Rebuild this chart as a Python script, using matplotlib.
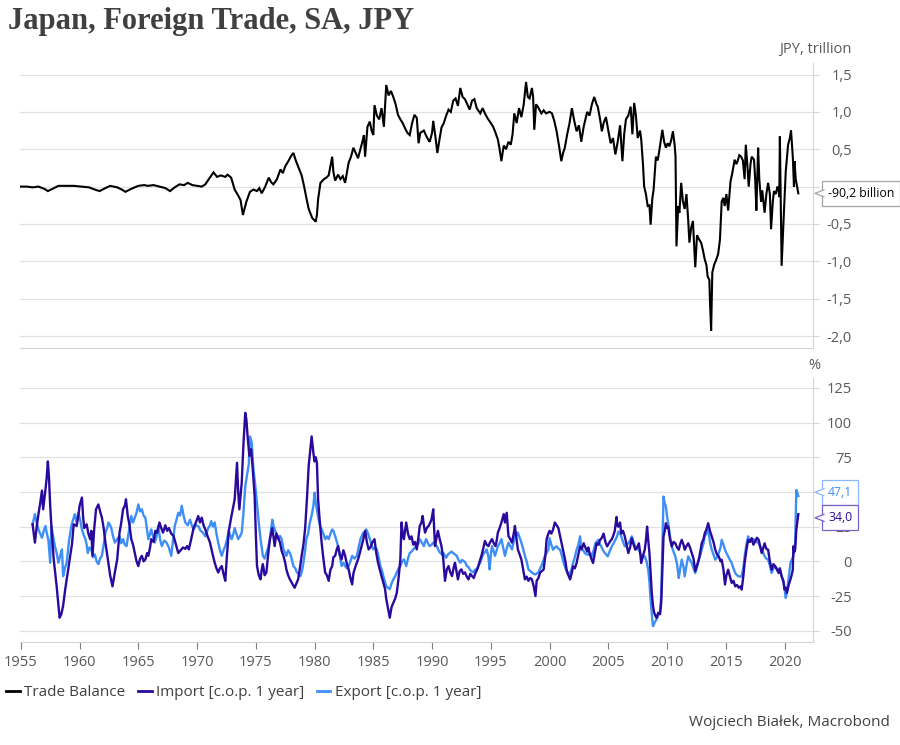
import matplotlib
matplotlib.use("Agg")
import matplotlib.pyplot as plt
from matplotlib.lines import Line2D
from matplotlib.patches import Polygon

plt.rcParams['font.family'] = ['Open Sans', 'DejaVu Sans']

# Trade balance, JPY trillion (year, value)
tb_points = [
    (1955.0, 0.0), (1955.5, 0.0), (1956.0, -0.01), (1956.5, 0.0), (1957.0, -0.03), (1957.3, -0.06),
    (1957.7, -0.03), (1958.2, 0.01), (1958.8, 0.01), (1959.5, 0.01), (1960.2, 0.0), (1960.8, -0.01),
    (1961.3, -0.04), (1961.7, -0.06), (1962.2, -0.02), (1962.6, 0.01), (1963.2, -0.01), (1963.6, -0.04),
    (1963.9, -0.07), (1964.4, -0.03), (1965.0, 0.01), (1965.5, 0.02), (1965.8, 0.01), (1966.3, 0.02),
    (1966.8, 0.0), (1967.3, -0.02), (1967.7, -0.06), (1968.1, -0.01), (1968.5, 0.03), (1968.9, 0.02),
    (1969.2, 0.05), (1969.6, 0.02), (1970.0, 0.01), (1970.4, 0.0), (1970.7, 0.03), (1971.0, 0.1),
    (1971.4, 0.19), (1971.7, 0.13), (1972.0, 0.15), (1972.4, 0.13), (1972.6, 0.16), (1972.9, 0.12),
    (1973.2, -0.04), (1973.5, -0.12), (1973.7, -0.18), (1973.9, -0.38), (1974.2, -0.2), (1974.5, -0.07),
    (1974.8, -0.04), (1975.1, -0.06), (1975.3, -0.02), (1975.5, -0.09), (1975.8, 0.0), (1976.1, 0.12),
    (1976.3, 0.06), (1976.5, 0.03), (1976.8, 0.1), (1977.1, 0.23), (1977.3, 0.18), (1977.5, 0.27),
    (1977.8, 0.35), (1978.0, 0.41), (1978.2, 0.45), (1978.4, 0.35), (1978.6, 0.27), (1978.9, 0.15),
    (1979.1, 0.01), (1979.3, -0.15), (1979.5, -0.3), (1979.8, -0.42), (1980.1, -0.47), (1980.2, -0.38),
    (1980.3, -0.17), (1980.5, 0.05), (1980.8, 0.1), (1981.0, 0.12), (1981.2, 0.15), (1981.5, 0.4),
    (1981.6, 0.2), (1981.75, 0.08), (1982.0, 0.16), (1982.2, 0.1), (1982.4, 0.14), (1982.6, 0.05),
    (1982.9, 0.32), (1983.1, 0.4), (1983.3, 0.52), (1983.5, 0.45), (1983.7, 0.38), (1983.9, 0.5),
    (1984.1, 0.62), (1984.2, 0.69), (1984.3, 0.4), (1984.5, 0.8), (1984.7, 0.87), (1984.85, 0.75),
    (1985.0, 0.69), (1985.1, 1.09), (1985.3, 0.95), (1985.5, 0.9), (1985.7, 1.05), (1985.9, 0.8),
    (1986.1, 1.36), (1986.3, 1.22), (1986.5, 1.28), (1986.7, 1.2), (1986.9, 1.1), (1987.1, 0.96),
    (1987.3, 0.9), (1987.5, 0.85), (1987.7, 0.78), (1987.9, 0.72), (1988.1, 0.69), (1988.3, 0.85),
    (1988.5, 0.96), (1988.7, 0.92), (1988.85, 0.58), (1989.0, 0.72), (1989.3, 0.75), (1989.5, 0.68),
    (1989.7, 0.62), (1989.8, 0.6), (1990.0, 0.72), (1990.1, 0.88), (1990.3, 0.65), (1990.45, 0.45),
    (1990.6, 0.6), (1990.8, 0.79), (1991.0, 0.85), (1991.2, 0.95), (1991.4, 1.03), (1991.6, 1.0),
    (1991.8, 1.15), (1992.0, 1.18), (1992.2, 1.08), (1992.4, 1.32), (1992.6, 1.2), (1992.8, 1.17),
    (1993.0, 1.1), (1993.2, 1.03), (1993.4, 1.15), (1993.6, 1.17), (1993.8, 1.05), (1994.1, 0.98),
    (1994.3, 1.05), (1994.5, 0.98), (1994.7, 0.92), (1995.0, 0.85), (1995.2, 0.8), (1995.4, 0.72),
    (1995.6, 0.63), (1995.75, 0.5), (1995.9, 0.34), (1996.1, 0.55), (1996.3, 0.5), (1996.5, 0.6),
    (1996.7, 0.56), (1996.85, 0.7), (1997.0, 0.98), (1997.2, 0.85), (1997.4, 1.05), (1997.6, 0.93),
    (1997.8, 1.1), (1998.0, 1.4), (1998.15, 1.2), (1998.3, 1.18), (1998.5, 1.32), (1998.6, 1.2),
    (1998.7, 0.76), (1998.85, 1.1), (1999.0, 1.07), (1999.3, 0.98), (1999.5, 1.02), (1999.7, 0.98),
    (2000.0, 1.0), (2000.2, 0.98), (2000.4, 0.88), (2000.6, 0.74), (2000.8, 0.55), (2001.0, 0.34),
    (2001.15, 0.45), (2001.3, 0.52), (2001.5, 0.7), (2001.7, 0.85), (2001.9, 1.05), (2002.1, 0.88),
    (2002.3, 0.74), (2002.5, 0.82), (2002.7, 0.6), (2002.9, 0.8), (2003.2, 1.0), (2003.4, 0.95),
    (2003.6, 1.1), (2003.8, 1.2), (2004.0, 1.1), (2004.1, 1.07), (2004.3, 0.9), (2004.45, 0.74),
    (2004.6, 0.85), (2004.8, 0.93), (2005.0, 0.75), (2005.2, 0.58), (2005.4, 0.65), (2005.6, 0.43),
    (2005.8, 0.6), (2006.0, 0.82), (2006.2, 0.34), (2006.35, 0.7), (2006.5, 0.9), (2006.7, 0.95),
    (2006.9, 1.07), (2007.05, 0.7), (2007.2, 1.12), (2007.35, 0.95), (2007.5, 0.65), (2007.7, 0.75),
    (2007.8, 0.63), (2007.95, 0.3), (2008.05, 0.0), (2008.2, -0.1), (2008.35, -0.26), (2008.5, -0.25),
    (2008.6, -0.51), (2008.75, -0.15), (2008.85, -0.05), (2009.05, 0.4), (2009.2, 0.35), (2009.3, 0.44),
    (2009.45, 0.6), (2009.6, 0.76), (2009.75, 0.6), (2009.9, 0.52), (2010.05, 0.58), (2010.2, 0.54),
    (2010.35, 0.62), (2010.5, 0.74), (2010.65, 0.55), (2010.72, 0.4), (2010.8, -0.8), (2010.95, -0.26),
    (2011.05, -0.35), (2011.2, 0.05), (2011.35, -0.2), (2011.5, -0.3), (2011.65, -0.1), (2011.8, -0.45),
    (2011.9, -0.75), (2012.05, -0.55), (2012.2, -0.46), (2012.4, -1.08), (2012.55, -0.65), (2012.7, -0.7),
    (2012.9, -0.75), (2013.05, -0.85), (2013.2, -0.97), (2013.35, -1.05), (2013.45, -1.2), (2013.6, -1.25),
    (2013.65, -1.53), (2013.75, -1.93), (2013.85, -1.15), (2014.0, -1.05), (2014.2, -0.97), (2014.35, -0.9),
    (2014.5, -0.71), (2014.65, -0.2), (2014.8, -0.15), (2014.9, -0.26), (2015.05, -0.1), (2015.2, -0.32),
    (2015.4, 0.07), (2015.55, 0.18), (2015.75, 0.36), (2015.9, 0.3), (2016.0, 0.34), (2016.15, 0.42),
    (2016.3, 0.4), (2016.45, 0.35), (2016.6, 0.1), (2016.7, 0.56), (2016.85, 0.25), (2016.95, 0.0),
    (2017.1, 0.3), (2017.2, 0.4), (2017.4, 0.36), (2017.5, 0.1), (2017.6, -0.32), (2017.75, 0.52),
    (2017.85, 0.1), (2018.0, -0.2), (2018.1, -0.05), (2018.3, -0.35), (2018.45, -0.1), (2018.6, 0.05),
    (2018.75, -0.1), (2018.85, -0.57), (2019.0, -0.2), (2019.1, -0.06), (2019.25, -0.1), (2019.4, 0.0),
    (2019.5, -0.05), (2019.55, -0.14), (2019.6, 0.67), (2019.75, -1.06), (2019.9, -0.5), (2020.1, 0.2),
    (2020.3, 0.56), (2020.45, 0.65), (2020.55, 0.75), (2020.7, 0.4), (2020.8, 0.0), (2020.85, 0.34),
    (2020.95, 0.1), (2021.17, -0.0902),
]

# Import, % change over 1 year
imp_points = [
    (1956.0, 26.7), (1956.2, 13.5), (1956.35, 25), (1956.5, 34), (1956.65, 42), (1956.8, 51), (1956.9, 37.5),
    (1957.1, 52), (1957.2, 60), (1957.3, 72), (1957.4, 60), (1957.5, 40), (1957.6, 25.5), (1957.8, 1.4),
    (1958.05, -18), (1958.2, -32), (1958.3, -40.6), (1958.45, -38), (1958.6, -32), (1958.75, -22),
    (1958.9, -13), (1959.05, -5), (1959.2, 4), (1959.35, 12), (1959.5, 26.7), (1959.75, 25.5), (1959.9, 33),
    (1960.0, 40), (1960.2, 46), (1960.3, 32), (1960.4, 24), (1960.6, 26.7), (1960.75, 20), (1960.9, 16),
    (1961.0, 22), (1961.1, 4), (1961.25, 24), (1961.4, 37.5), (1961.6, 41), (1961.75, 36), (1961.9, 31.5),
    (1962.05, 24), (1962.2, 13.5), (1962.35, 5), (1962.45, -1), (1962.6, -10), (1962.8, -18), (1963.0, -8),
    (1963.2, 1.4), (1963.4, 20.7), (1963.55, 28), (1963.7, 37.5), (1963.85, 40), (1963.95, 44.7),
    (1964.1, 32.7), (1964.25, 26), (1964.4, 16), (1964.55, 12), (1964.7, 6), (1964.85, 0), (1965.0, -3.4),
    (1965.15, 2), (1965.3, 4), (1965.45, 0), (1965.6, 1.4), (1965.75, 6), (1965.85, 4), (1966.0, 10),
    (1966.1, 16), (1966.3, 14), (1966.45, 22), (1966.6, 20.7), (1966.8, 28), (1966.95, 24), (1967.1, 20.7),
    (1967.3, 26), (1967.45, 22), (1967.6, 24), (1967.8, 20), (1968.0, 18.3), (1968.2, 12), (1968.4, 6),
    (1968.6, 8), (1968.8, 10), (1969.0, 9), (1969.15, 11), (1969.3, 8.6), (1969.5, 16), (1969.7, 24),
    (1969.9, 28), (1970.1, 32.7), (1970.25, 28), (1970.4, 31.5), (1970.55, 26), (1970.7, 23), (1970.9, 18),
    (1971.1, 13.5), (1971.3, 6), (1971.5, -1), (1971.65, -5), (1971.8, -8), (1971.95, -5), (1972.1, -3.4),
    (1972.25, -9), (1972.4, -14), (1972.55, 5), (1972.7, 22), (1972.9, 31.5), (1973.05, 38), (1973.2, 44.7),
    (1973.4, 71), (1973.5, 50), (1973.6, 37.5), (1973.8, 56.7), (1973.95, 85), (1974.1, 107), (1974.2, 102),
    (1974.3, 90), (1974.45, 76), (1974.6, 80.8), (1974.75, 65), (1974.9, 47), (1975.0, 20), (1975.1, -3.4),
    (1975.25, -10), (1975.4, -13), (1975.5, -6), (1975.6, -2), (1975.75, -10), (1975.9, -8), (1976.05, 5),
    (1976.2, 16), (1976.4, 24), (1976.5, 18), (1976.6, 11), (1976.75, 20), (1976.9, 17), (1977.06, 13.5),
    (1977.2, 7.5), (1977.35, 4), (1977.5, -1), (1977.6, -5.8), (1977.75, -10), (1977.9, -13), (1978.1, -16),
    (1978.3, -19), (1978.45, -16), (1978.6, -13), (1978.75, -5), (1978.9, 4), (1979.05, 12), (1979.2, 24),
    (1979.35, 45), (1979.5, 69), (1979.65, 82), (1979.75, 90), (1979.85, 82), (1979.9, 78), (1980.0, 72),
    (1980.1, 75), (1980.2, 71), (1980.3, 44.7), (1980.45, 28), (1980.6, 13.5), (1980.75, 2), (1980.9, -8),
    (1981.05, -10), (1981.2, -14), (1981.35, -6), (1981.5, -3.4), (1981.6, 3), (1981.75, 4), (1981.9, 9),
    (1982.0, 11), (1982.15, 5), (1982.3, 1.4), (1982.45, 8), (1982.6, 4), (1982.75, -2), (1982.9, -5.8),
    (1983.05, -12), (1983.2, -16.6), (1983.3, -9), (1983.4, -5.8), (1983.55, -2), (1983.7, 1.4),
    (1983.85, 6), (1984.0, 11), (1984.15, 16), (1984.3, 22), (1984.45, 14), (1984.6, 8.6), (1984.75, 10),
    (1984.9, 13.5), (1985.1, 16), (1985.25, 6), (1985.4, -1), (1985.55, -6), (1985.7, -10.6), (1985.85, -15),
    (1986.0, -20), (1986.1, -27), (1986.25, -34), (1986.4, -40.6), (1986.55, -33), (1986.7, -30),
    (1986.85, -27), (1987.0, -22.6), (1987.15, -12), (1987.3, 1.4), (1987.4, 28), (1987.5, 20), (1987.6, 16),
    (1987.7, 22), (1987.8, 28), (1987.95, 20), (1988.1, 16), (1988.25, 18), (1988.4, 12), (1988.55, 14),
    (1988.7, 8.6), (1988.85, 18), (1988.95, 25.5), (1989.1, 28), (1989.2, 32.7), (1989.3, 26), (1989.4, 20.7),
    (1989.55, 24), (1989.7, 25.5), (1989.85, 28), (1989.95, 30), (1990.1, 37.5), (1990.25, 11), (1990.4, 18),
    (1990.5, 22), (1990.65, 16), (1990.8, 11), (1990.95, 2), (1991.1, -14), (1991.25, -6), (1991.4, -3.4),
    (1991.55, -8), (1991.7, -10.6), (1991.85, -4), (1991.95, -1), (1992.1, -8), (1992.2, -13), (1992.35, -7),
    (1992.5, -5.8), (1992.65, -9), (1992.8, -8), (1992.95, -11), (1993.1, -13), (1993.25, -9), (1993.4, -10.6),
    (1993.55, -12), (1993.65, -9.4), (1993.9, -4.6), (1994.05, 0), (1994.2, 4), (1994.35, 9), (1994.5, 14.7),
    (1994.65, 12), (1994.8, 11), (1994.95, 14), (1995.1, 16), (1995.25, 13), (1995.4, 11), (1995.5, 15),
    (1995.6, 20.7), (1995.75, 24), (1995.9, 28), (1996.1, 34), (1996.2, 28), (1996.35, 35), (1996.5, 18.3),
    (1996.65, 16), (1996.8, 13.5), (1996.95, 20), (1997.05, 25.5), (1997.2, 15), (1997.3, 8.6), (1997.45, 5),
    (1997.6, 1.4), (1997.75, -6), (1997.9, -13), (1998.05, -11), (1998.2, -14), (1998.35, -12), (1998.5, -13),
    (1998.65, -18), (1998.8, -25), (1998.9, -14), (1999.05, -12), (1999.2, -8), (1999.35, -7), (1999.5, -5.8),
    (1999.65, 5), (1999.75, 16), (1999.9, 20), (2000.0, 22), (2000.15, 20), (2000.3, 23), (2000.45, 28),
    (2000.6, 26), (2000.75, 24), (2000.9, 18), (2001.05, 12), (2001.2, 6), (2001.35, 0), (2001.45, -6),
    (2001.6, -10), (2001.75, -13), (2001.9, -8), (2002.0, -3.6), (2002.15, -5), (2002.3, -1.2), (2002.45, 5),
    (2002.6, 10.8), (2002.75, 9), (2002.9, 13), (2003.05, 10), (2003.2, 7), (2003.3, 10), (2003.4, 6),
    (2003.55, 2), (2003.7, -1.2), (2003.85, 6), (2004.0, 13), (2004.15, 12), (2004.3, 15.5), (2004.45, 17),
    (2004.6, 20), (2004.75, 14), (2004.9, 10.8), (2005.05, 13), (2005.15, 14.4), (2005.3, 16), (2005.4, 18),
    (2005.55, 22), (2005.7, 32), (2005.75, 26), (2005.85, 25), (2006.0, 28), (2006.1, 20), (2006.25, 22),
    (2006.4, 18), (2006.55, 12), (2006.7, 6), (2006.85, 10), (2007.0, 16.7), (2007.15, 12), (2007.3, 8.4),
    (2007.45, 10), (2007.6, 13), (2007.7, 7), (2007.8, -1.2), (2007.95, 4), (2008.1, 8.4), (2008.2, 15),
    (2008.3, 25), (2008.4, 15), (2008.5, 6), (2008.6, -8), (2008.7, -22.7), (2008.8, -32), (2008.9, -37),
    (2009.0, -39), (2009.1, -40.7), (2009.25, -37), (2009.4, -38), (2009.5, -30), (2009.6, -5), (2009.7, 18),
    (2009.8, 22), (2009.9, 27.5), (2010.0, 24), (2010.1, 25), (2010.25, 16), (2010.4, 10.8), (2010.55, 14),
    (2010.7, 13), (2010.85, 10), (2011.0, 8.4), (2011.1, 12), (2011.25, 15.5), (2011.4, 12), (2011.5, 8.4),
    (2011.65, 11), (2011.8, 13), (2011.95, 10), (2012.1, 6), (2012.25, 2), (2012.4, -7), (2012.55, -3),
    (2012.7, 1.2), (2012.85, 8), (2012.95, 13), (2013.1, 16), (2013.2, 20), (2013.35, 23), (2013.5, 27.5),
    (2013.65, 22), (2013.8, 18), (2013.95, 14), (2014.1, 8.4), (2014.25, 5), (2014.4, 3.6), (2014.55, 0),
    (2014.65, 1.2), (2014.8, -6), (2014.93, -16.7), (2015.05, -10), (2015.2, -6), (2015.35, -11),
    (2015.5, -15.5), (2015.65, -14), (2015.8, -18), (2015.95, -17), (2016.1, -19), (2016.25, -18),
    (2016.35, -20.3), (2016.5, -10), (2016.6, -1.2), (2016.75, 8), (2016.9, 15.5), (2017.05, 14),
    (2017.2, 16.7), (2017.35, 12), (2017.5, 14.4), (2017.65, 17), (2017.8, 15.5), (2017.95, 10), (2018.05, 6),
    (2018.2, 10), (2018.3, 13), (2018.45, 9), (2018.6, 8.4), (2018.75, 0), (2018.9, -6), (2019.05, -2),
    (2019.2, -3.6), (2019.35, -6), (2019.5, -8.4), (2019.6, -5), (2019.75, -10.8), (2019.9, -14),
    (2020.0, -20.3), (2020.1, -19), (2020.2, -22.7), (2020.35, -17), (2020.5, -13), (2020.6, -10),
    (2020.7, -6), (2020.75, 10.8), (2020.85, 7), (2020.9, 8.4), (2021.0, 22.7), (2021.17, 34.0),
]

# Export, % change over 1 year
exp_points = [
    (1956.0, 26.7), (1956.2, 34), (1956.35, 28), (1956.5, 23), (1956.65, 20), (1956.8, 17), (1956.95, 22),
    (1957.1, 25.5), (1957.2, 20.7), (1957.35, 15), (1957.5, -1), (1957.6, 25.5), (1957.75, 18), (1957.9, 11),
    (1958.05, 6), (1958.2, -1), (1958.35, 4), (1958.5, 8.6), (1958.6, -10.6), (1958.75, -5), (1958.9, -1),
    (1959.1, 14.7), (1959.2, 20), (1959.3, 25.5), (1959.45, 30), (1959.6, 34), (1959.75, 28), (1959.9, 35),
    (1960.05, 30), (1960.2, 23), (1960.35, 19), (1960.5, 16), (1960.6, 12), (1960.7, 6), (1960.85, 10),
    (1961.0, 8.6), (1961.15, 3), (1961.3, 5), (1961.45, 0), (1961.6, -2), (1961.75, 2), (1961.9, 4),
    (1962.05, 12), (1962.2, 20.7), (1962.35, 24), (1962.45, 28), (1962.6, 26), (1962.7, 24), (1962.85, 18),
    (1963.0, 13.5), (1963.2, 16), (1963.4, 18.3), (1963.55, 13), (1963.7, 16), (1963.85, 12), (1964.0, 11),
    (1964.2, 22), (1964.4, 32.7), (1964.55, 28), (1964.7, 31.5), (1964.85, 35), (1965.0, 41), (1965.15, 36),
    (1965.3, 37.5), (1965.45, 33), (1965.6, 31.5), (1965.75, 22), (1965.85, 16), (1966.0, 20), (1966.1, 23),
    (1966.25, 18), (1966.4, 13.5), (1966.55, 18), (1966.7, 25.5), (1966.85, 16), (1967.0, 11), (1967.2, 15),
    (1967.4, 13.5), (1967.6, 10), (1967.8, 4), (1967.95, 15), (1968.1, 25.5), (1968.25, 30), (1968.4, 35),
    (1968.55, 33), (1968.7, 40), (1968.85, 33), (1969.0, 28), (1969.2, 26), (1969.4, 30), (1969.55, 26),
    (1969.7, 23), (1969.9, 26), (1970.1, 25.5), (1970.3, 22), (1970.5, 20.7), (1970.7, 18), (1970.95, 24),
    (1971.1, 26), (1971.2, 29), (1971.35, 25), (1971.5, 28), (1971.65, 20), (1971.8, 13.5), (1971.95, 8),
    (1972.1, 4), (1972.25, 8), (1972.4, 11), (1972.55, 16), (1972.7, 22), (1972.85, 18), (1972.95, 16),
    (1973.1, 20), (1973.2, 24), (1973.35, 20), (1973.5, 16), (1973.65, 18), (1973.8, 20.7), (1973.95, 35),
    (1974.1, 54), (1974.25, 62), (1974.4, 70), (1974.5, 90), (1974.65, 85.6), (1974.8, 66), (1974.95, 55),
    (1975.1, 42), (1975.25, 28), (1975.4, 16), (1975.5, 10), (1975.6, 4), (1975.75, 2), (1975.9, 6),
    (1976.05, 10), (1976.2, 16), (1976.4, 30), (1976.5, 26), (1976.6, 23), (1976.75, 20), (1976.9, 16),
    (1977.06, 18.3), (1977.2, 16), (1977.35, 8.6), (1977.5, 6), (1977.6, 4), (1977.75, 8), (1977.9, 6),
    (1978.05, 2), (1978.2, -3.4), (1978.35, -5), (1978.5, -8), (1978.65, -9), (1978.8, -10.6), (1978.95, -6),
    (1979.05, -1), (1979.2, 8), (1979.3, 16), (1979.45, 20), (1979.6, 28), (1979.75, 33), (1979.9, 40),
    (1980.0, 49.5), (1980.1, 42), (1980.2, 37.5), (1980.3, 32), (1980.4, 28), (1980.5, 25), (1980.6, 23),
    (1980.75, 20), (1980.9, 16), (1981.05, 18), (1981.2, 16), (1981.35, 20), (1981.5, 23), (1981.6, 22),
    (1981.75, 18.3), (1981.9, 14), (1982.0, 11), (1982.15, 4), (1982.3, -3.4), (1982.45, -1), (1982.6, -3.4),
    (1982.75, -5), (1982.9, -3.4), (1983.05, 0), (1983.2, 4), (1983.4, 2), (1983.6, 4), (1983.75, 10),
    (1983.9, 16), (1984.15, 20.7), (1984.3, 19), (1984.4, 23), (1984.55, 20), (1984.7, 16), (1984.85, 12),
    (1985.0, 8.6), (1985.15, 10), (1985.3, 8.6), (1985.45, 3), (1985.6, -3.4), (1985.75, -7), (1985.85, -10.6),
    (1986.0, -15), (1986.1, -18), (1986.25, -19), (1986.4, -20), (1986.55, -16), (1986.7, -13), (1986.85, -11),
    (1987.0, -8), (1987.15, -5), (1987.3, -3.4), (1987.45, 0), (1987.6, 1.4), (1987.7, -1), (1987.8, -3.4),
    (1987.95, 2), (1988.1, 6), (1988.25, 7), (1988.4, 8.6), (1988.55, 10), (1988.7, 11), (1988.85, 13),
    (1988.95, 16), (1989.1, 14), (1989.3, 11), (1989.4, 14), (1989.5, 16), (1989.65, 13), (1989.8, 11),
    (1989.95, 12), (1990.1, 13.5), (1990.25, 12), (1990.4, 11), (1990.55, 8), (1990.7, 6), (1990.85, 5),
    (1990.96, 6), (1991.1, 4), (1991.2, 2.6), (1991.35, 5), (1991.5, 6), (1991.65, 7), (1991.8, 6),
    (1991.95, 5), (1992.1, 4), (1992.25, 1), (1992.4, -1), (1992.55, 1), (1992.7, 0.2), (1992.85, -1),
    (1992.95, -3.4), (1993.1, -4), (1993.2, -5.8), (1993.35, -7), (1993.5, -8), (1993.65, -6), (1993.8, -5.8),
    (1993.95, -3), (1994.1, -1), (1994.25, 3), (1994.4, 6), (1994.55, 7), (1994.65, 8.6), (1994.8, 3),
    (1994.9, -5.8), (1995.0, 5), (1995.1, 11), (1995.25, 7), (1995.35, 4), (1995.5, 8), (1995.6, 11),
    (1995.75, 13), (1995.9, 16), (1996.05, 10), (1996.2, 4), (1996.35, 9), (1996.5, 13.5), (1996.65, 11),
    (1996.8, 8.6), (1996.95, 14), (1997.06, 18.3), (1997.2, 19), (1997.3, 20.7), (1997.45, 17), (1997.6, 13.5),
    (1997.75, 9), (1997.9, 4), (1998.05, 0), (1998.2, -5.8), (1998.35, -7), (1998.5, -8), (1998.65, -9),
    (1998.8, -9.4), (1998.95, -8.5), (1999.05, -8), (1999.2, -5), (1999.3, -3.4), (1999.45, 0), (1999.6, 4),
    (1999.75, 6), (1999.9, 8.6), (2000.0, 16.7), (2000.15, 12), (2000.3, 8.4), (2000.45, 10), (2000.6, 10.8),
    (2000.75, 9), (2000.9, 8.4), (2001.05, 4), (2001.2, -1.2), (2001.35, -5), (2001.45, -7), (2001.6, -10),
    (2001.75, -8), (2001.9, -5), (2002.0, -1.2), (2002.15, 3), (2002.3, 8.4), (2002.45, 12), (2002.6, 18),
    (2002.7, 8.4), (2002.85, 8), (2003.0, 6), (2003.15, 5), (2003.3, 4.8), (2003.45, 6), (2003.6, 3.6),
    (2003.75, 8), (2003.9, 13), (2004.15, 15.5), (2004.3, 12), (2004.4, 10.8), (2004.55, 8), (2004.7, 6),
    (2004.8, 5), (2004.95, 3.6), (2005.1, 7), (2005.3, 10.8), (2005.45, 13), (2005.6, 15.5), (2005.75, 18),
    (2005.85, 21.5), (2006.0, 20), (2006.1, 18), (2006.25, 14), (2006.4, 10.8), (2006.55, 12), (2006.7, 13),
    (2006.85, 15), (2007.0, 18), (2007.15, 14), (2007.3, 10.8), (2007.45, 9), (2007.6, 8.4), (2007.7, 6),
    (2007.8, 3.6), (2007.95, 4), (2008.1, 3.6), (2008.25, 0), (2008.4, -6), (2008.5, -15), (2008.6, -27.5),
    (2008.7, -38), (2008.8, -46.7), (2008.95, -44), (2009.1, -41.9), (2009.25, -39), (2009.4, -37),
    (2009.5, -25), (2009.6, 10), (2009.7, 46.7), (2009.8, 42), (2009.9, 39.5), (2010.0, 32), (2010.1, 27.5),
    (2010.25, 18), (2010.4, 10.8), (2010.55, 7), (2010.7, 3.6), (2010.85, -2), (2011.0, -12), (2011.1, -6),
    (2011.25, 1.2), (2011.4, -4), (2011.5, -10.8), (2011.65, -3), (2011.8, 3.6), (2011.95, 1), (2012.1, -1.2),
    (2012.25, -5), (2012.4, -8.4), (2012.55, -4), (2012.7, 1.2), (2012.85, 5), (2012.95, 8.4), (2013.1, 13),
    (2013.2, 18), (2013.35, 20), (2013.5, 22.7), (2013.65, 14), (2013.8, 8.4), (2013.95, 5), (2014.1, 1.2),
    (2014.25, 3), (2014.4, 6), (2014.55, 10), (2014.65, 15.5), (2014.8, 12), (2014.93, 8.4), (2015.05, 6),
    (2015.2, 3.6), (2015.35, 1), (2015.5, -1.2), (2015.65, -5), (2015.8, -8.4), (2015.95, -10),
    (2016.1, -10.8), (2016.25, -11), (2016.35, -10.8), (2016.5, -4), (2016.6, 3.6), (2016.75, 12),
    (2016.9, 18), (2017.05, 15), (2017.2, 14.4), (2017.35, 16), (2017.5, 15.5), (2017.65, 14), (2017.8, 13),
    (2017.95, 10), (2018.05, 8.4), (2018.2, 6), (2018.3, 3.6), (2018.45, 2), (2018.6, 1.2), (2018.75, -3),
    (2018.9, -8.4), (2019.05, -5), (2019.2, -3.6), (2019.35, -5), (2019.5, -7), (2019.6, -6), (2019.75, -10.8),
    (2019.9, -15), (2020.0, -20), (2020.1, -26.3), (2020.2, -22), (2020.3, -15.5), (2020.4, -8), (2020.5, -1.2),
    (2020.6, 1), (2020.75, 3.6), (2020.85, 10), (2020.9, 13), (2021.0, 51.4), (2021.17, 47.1),
]

year_ticks = list(range(1955, 2021, 5))
top_ticks = [1.5, 1.0, 0.5, 0.0, -0.5, -1.0, -1.5, -2.0]
bottom_ticks = [125, 100, 75, 50, 25, 0, -25, -50]

C_TB = '#000000'
C_IMP = '#2a0a9c'
C_EXP = '#3d8ef5'
GRID = '#e2e2e2'
AXC = '#d4d4d4'
TXT = '#595959'

W, H = 900, 745
fig = plt.figure(figsize=(W / 100, H / 100), dpi=100)

def px(x0, y0, x1, y1):
    # pixel box (top-left origin) -> figure fraction rect
    return [x0 / W, 1 - y1 / H, (x1 - x0) / W, (y1 - y0) / H]

ax1 = fig.add_axes(px(20, 63, 813, 348))
ax2 = fig.add_axes(px(20, 378, 813, 642))

xmin, xmax = 1954.93, 2022.42

for ax in (ax1, ax2):
    ax.set_xlim(xmin, xmax)
    for s in ('left', 'top'):
        ax.spines[s].set_visible(False)
    ax.spines['right'].set_color(AXC)
    ax.spines['bottom'].set_color(AXC)
    ax.yaxis.tick_right()
    ax.yaxis.grid(True, color=GRID, lw=0.9)
    ax.set_axisbelow(True)
    ax.tick_params(axis='y', which='both', length=4, color=AXC, pad=24,
                   labelsize=10.5, labelcolor=TXT)

ax1.set_ylim(-2.16, 1.654)
ax1.set_yticks(top_ticks)
ax1.set_yticklabels([f"{v:.1f}".replace('.', ',') for v in top_ticks])
ax1.set_xticks([])

ax2.set_ylim(-58.1, 132.1)
ax2.set_yticks(bottom_ticks)
ax2.set_yticklabels([f"{v:d}" for v in bottom_ticks])
ax2.set_xticks(year_ticks)
ax2.set_xticklabels([str(y) for y in year_ticks])
ax2.tick_params(axis='x', length=5, color='#7f7f7f', labelsize=10.5, labelcolor=TXT, pad=4)

for ax in (ax1, ax2):
    for lab in ax.get_yticklabels():
        lab.set_horizontalalignment('right')

tb_x = [p[0] for p in tb_points]
tb_y = [p[1] for p in tb_points]
imp_x = [p[0] for p in imp_points]
imp_y = [p[1] for p in imp_points]
exp_x = [p[0] for p in exp_points]
exp_y = [p[1] for p in exp_points]

ax1.plot(tb_x, tb_y, color=C_TB, lw=1.5, solid_joinstyle='miter')
ax2.plot(imp_x, imp_y, color=C_IMP, lw=1.7, zorder=3)
ax2.plot(exp_x, exp_y, color=C_EXP, lw=1.7, zorder=2)

# axis unit labels and title
fig.text(852 / W, 1 - 50 / H, 'JPY, trillion', ha='right', va='center', fontsize=10.5, color=TXT)
fig.text(814 / W, 1 - 365 / H, '%', ha='center', va='center', fontsize=10.5, color=TXT)
fig.text(8 / W, 1 - 22 / H, 'Japan, Foreign Trade, SA, JPY', ha='left', va='center',
         fontsize=22, fontweight='bold', family=['Liberation Serif', 'DejaVu Serif'], color='#404040')


def callout(ax, y_disp, text, edge, tcolor):
    # box with a small pointer to the left, placed just right of the axis
    x_axis = ax.transData.transform((xmin, 0))[0] + ax.bbox.width
    tip = x_axis + 2
    left = tip + 9
    t = fig.text((left + 4) / W, y_disp / H, text, ha='left', va='center', fontsize=8.8,
                 color=tcolor, zorder=10,
                 bbox=dict(boxstyle='square,pad=0.5', fc='white', ec=edge, lw=0.9))
    cover = Polygon([(left / W, (y_disp + 3.5) / H), (tip / W, y_disp / H), (left / W, (y_disp - 3.5) / H),
                     ((left + 1.2) / W, (y_disp - 3.5) / H), ((left + 1.2) / W, (y_disp + 3.5) / H)],
                    closed=True, transform=fig.transFigure, fc='white', ec='none', zorder=11)
    fig.patches.append(cover)
    edge_line = Line2D([left / W, tip / W, left / W],
                       [(y_disp + 3.5) / H, y_disp / H, (y_disp - 3.5) / H],
                       transform=fig.transFigure, color=edge, lw=0.9, zorder=12)
    fig.lines.append(edge_line)
    return t


def fmt_comma(v, nd=1):
    return f"{v:.{nd}f}".replace('.', ',')


tb_last = tb_y[-1]
y_tb = ax1.transData.transform((tb_x[-1], tb_last))[1]
callout(ax1, y_tb, f"{fmt_comma(tb_last * 1000)} billion", '#a6a6a6', '#000000')

y_exp = ax2.transData.transform((exp_x[-1], exp_y[-1]))[1]
y_imp = ax2.transData.transform((imp_x[-1], imp_y[-1]))[1]
box_h = 25.5
if abs(y_exp - y_imp) < box_h:
    mid = (y_exp + y_imp) / 2
    if y_exp >= y_imp:
        y_exp, y_imp = mid + box_h / 2, mid - box_h / 2
    else:
        y_exp, y_imp = mid - box_h / 2, mid + box_h / 2
callout(ax2, y_exp, fmt_comma(exp_y[-1]), '#8ab8f8', C_EXP)
callout(ax2, y_imp, fmt_comma(imp_y[-1]), '#7b62c4', C_IMP)

# legend
handles = [Line2D([], [], color=C_TB, lw=2), Line2D([], [], color=C_IMP, lw=2),
           Line2D([], [], color=C_EXP, lw=2)]
labels = ['Trade Balance', 'Import [c.o.p. 1 year]', 'Export [c.o.p. 1 year]']
fig.legend(handles, labels, loc='center left', bbox_to_anchor=(6 / W, 1 - 693 / H), ncol=3,
           frameon=False, fontsize=11, handlelength=0.9, handletextpad=0.3, columnspacing=0.8,
           borderpad=0, borderaxespad=0, labelcolor='#404040')

fig.text(890 / W, 1 - 723 / H, 'Wojciech Białek, Macrobond', ha='right', va='center',
         fontsize=11, color='#404040')

fig.savefig('out.png', dpi=100)
